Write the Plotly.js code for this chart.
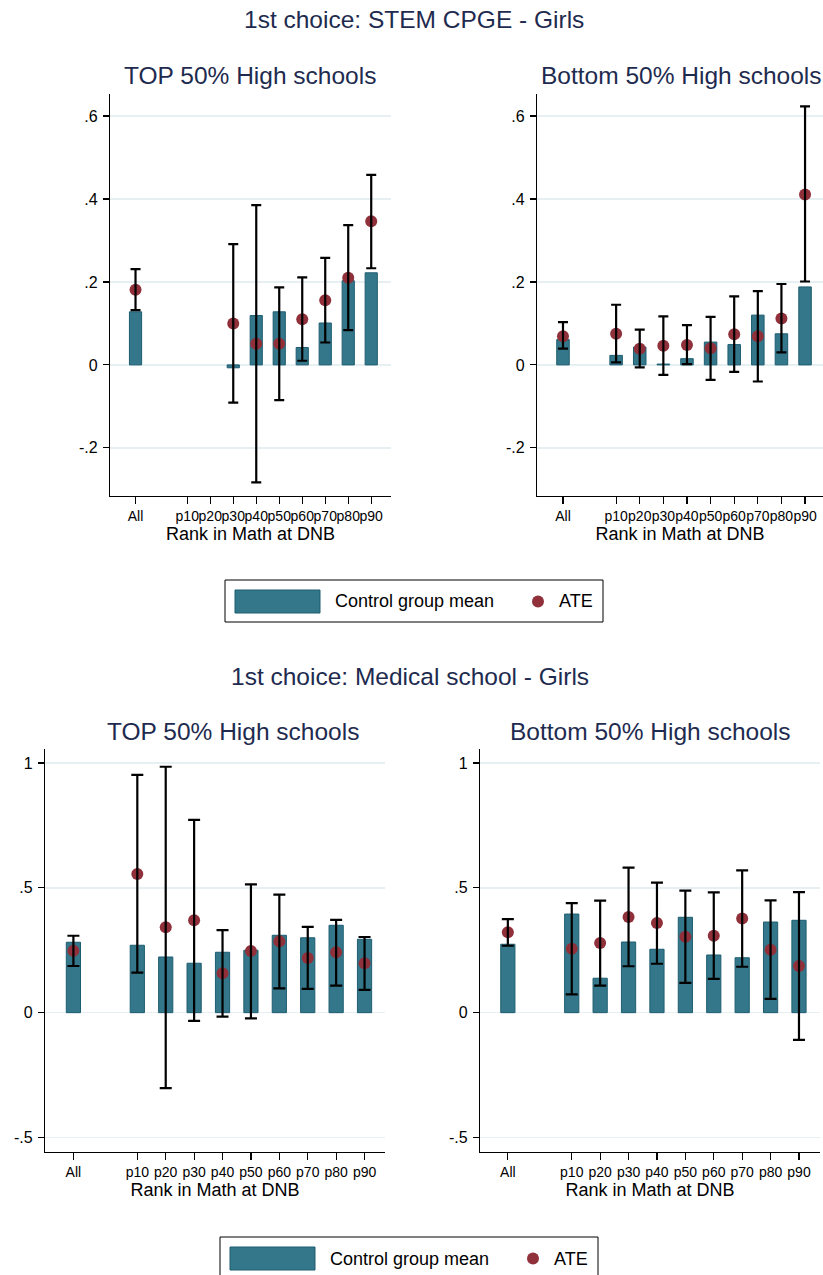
<!DOCTYPE html>
<html>
<head>
<meta charset="utf-8">
<script src="https://cdn.plot.ly/plotly-3.0.1.min.js"></script>
<style>html,body{margin:0;padding:0;background:#fff;}#chart{width:823px;height:1275px;}</style>
</head>
<body>
<div id="chart"></div>
<script>
// ---- categories / ticks ----
const categories = ["All", "p10", "p20", "p30", "p40", "p50", "p60", "p70", "p80", "p90"];
const catPos = [-1.25, 1, 2, 3, 4, 5, 6, 7, 8, 9];
const yTicksTop = [0.6, 0.4, 0.2, 0, -0.2];
const yTickTextTop = [".6", ".4", ".2", "0", "-.2"];
const yTicksBot = [1, 0.5, 0, -0.5];
const yTickTextBot = ["1", ".5", "0", "-.5"];

// ---- 1st choice: STEM CPGE - Girls, TOP 50% ----
const stemTopCtrl = [0.128, null, null, -0.007, 0.119, 0.128, 0.042, 0.101, 0.203, 0.222];
const stemTopAte  = [0.181, null, null, 0.100, 0.051, 0.051, 0.110, 0.156, 0.210, 0.346];
const stemTopLo   = [0.132, null, null, -0.091, -0.283, -0.085, 0.010, 0.054, 0.084, 0.233];
const stemTopHi   = [0.231, null, null, 0.291, 0.385, 0.187, 0.211, 0.258, 0.337, 0.458];

// ---- 1st choice: STEM CPGE - Girls, Bottom 50% ----
const stemBotCtrl = [0.061, 0.023, 0.043, 0.002, 0.015, 0.055, 0.049, 0.120, 0.075, 0.188];
const stemBotAte  = [0.069, 0.075, 0.039, 0.046, 0.048, 0.040, 0.074, 0.069, 0.112, 0.411];
const stemBotLo   = [0.039, 0.006, -0.006, -0.024, 0.002, -0.036, -0.017, -0.040, 0.030, 0.201];
const stemBotHi   = [0.103, 0.145, 0.085, 0.117, 0.096, 0.116, 0.165, 0.178, 0.195, 0.623];

// ---- 1st choice: Medical school - Girls, TOP 50% ----
const medTopCtrl = [0.282, 0.270, 0.223, 0.198, 0.242, 0.250, 0.310, 0.300, 0.350, 0.294];
const medTopAte  = [0.248, 0.555, 0.342, 0.370, 0.158, 0.247, 0.286, 0.219, 0.242, 0.198];
const medTopLo   = [0.187, 0.160, -0.302, -0.033, -0.016, -0.023, 0.097, 0.095, 0.108, 0.091];
const medTopHi   = [0.308, 0.952, 0.985, 0.772, 0.331, 0.514, 0.473, 0.344, 0.372, 0.303];

// ---- 1st choice: Medical school - Girls, Bottom 50% ----
const medBotCtrl = [0.274, 0.395, 0.138, 0.283, 0.254, 0.382, 0.231, 0.220, 0.363, 0.370];
const medBotAte  = [0.322, 0.256, 0.279, 0.383, 0.359, 0.304, 0.308, 0.377, 0.252, 0.187];
const medBotLo   = [0.268, 0.073, 0.108, 0.186, 0.196, 0.119, 0.135, 0.184, 0.055, -0.109];
const medBotHi   = [0.375, 0.439, 0.449, 0.581, 0.521, 0.489, 0.482, 0.570, 0.450, 0.483];

// ---- style ----
const W = 823, H = 1275;
const teal = "#35778a", tealLine = "#1d5d70", red = "#8f303a", navy = "#1e2b4f";
const font = "Liberation Sans, Arial, Helvetica, sans-serif";
const px = v => v / W;
const py = v => 1 - v / H;

function panel(ctrl, ate, lo, hi, xa, ya, barW, capW) {
  const up = ate.map((a, i) => (a == null || hi[i] == null) ? null : hi[i] - a);
  const dn = ate.map((a, i) => (a == null || lo[i] == null) ? null : a - lo[i]);
  return [
    {type: "bar", x: catPos, y: ctrl, xaxis: xa, yaxis: ya, width: barW,
     marker: {color: teal, line: {color: tealLine, width: 1}}, name: "Control group mean", showlegend: false, hoverinfo: "y"},
    {type: "scatter", mode: "markers", x: catPos, y: ate, xaxis: xa, yaxis: ya,
     marker: {color: red, size: 12}, name: "ATE", showlegend: false, hoverinfo: "y"},
    {type: "scatter", mode: "markers", x: catPos, y: ate, xaxis: xa, yaxis: ya,
     marker: {color: red, size: 12, opacity: 0}, showlegend: false, hoverinfo: "skip",
     error_y: {type: "data", symmetric: false, array: up, arrayminus: dn, color: "#000", thickness: 2.2, width: capW}}
  ];
}

const data = [].concat(
  panel(stemTopCtrl, stemTopAte, stemTopLo, stemTopHi, "x", "y", 0.53, 5),
  panel(stemBotCtrl, stemBotAte, stemBotLo, stemBotHi, "x2", "y2", 0.53, 5),
  panel(medTopCtrl, medTopAte, medTopLo, medTopHi, "x3", "y3", 0.5, 6),
  panel(medBotCtrl, medBotAte, medBotLo, medBotHi, "x4", "y4", 0.5, 6)
);

function xaxis(l, r, range, anchor, tf) {
  return {domain: [px(l), px(r)], range: range, anchor: anchor, tickmode: "array", tickvals: catPos, ticktext: categories,
    tickangle: 0,
    showline: true, linecolor: "#000", linewidth: 1.2, ticks: "outside", ticklen: 7, tickcolor: "#000", tickwidth: 1.2,
    showgrid: false, zeroline: false, tickfont: {family: font, size: tf, color: "#000"},
    title: {text: "Rank in Math at DNB", font: {family: font, size: 18, color: "#000"}, standoff: 2}};
}
function yaxis(t, b, range, anchor, tv, tt) {
  return {domain: [py(b), py(t)], range: range, anchor: anchor, tickmode: "array", tickvals: tv, ticktext: tt,
    showline: true, linecolor: "#000", linewidth: 1.2, ticks: "outside", ticklen: 6, tickcolor: "#000", tickwidth: 1.2,
    showgrid: true, gridcolor: "#e6eff2", gridwidth: 1.5, zeroline: false, ticklabelstandoff: 2,
    tickfont: {family: font, size: 16, color: "#000"}};
}

const ann = (text, x, y, size, color, xanchor) => ({text: text, x: px(x), y: py(y), xref: "paper", yref: "paper",
  xanchor: xanchor || "center", yanchor: "middle", showarrow: false, font: {family: font, size: size, color: color}});

function legend(x0, y0) {
  // x0,y0: top-left of legend box in pixels
  const shapes = [
    {type: "rect", xref: "paper", yref: "paper", x0: px(x0), x1: px(x0 + 378), y0: py(y0 + 42), y1: py(y0), line: {color: "#000", width: 1}, fillcolor: "#fff"},
    {type: "rect", xref: "paper", yref: "paper", x0: px(x0 + 10), x1: px(x0 + 95), y0: py(y0 + 33), y1: py(y0 + 10), line: {color: tealLine, width: 1}, fillcolor: teal},
    {type: "circle", xref: "paper", yref: "paper", x0: px(x0 + 307), x1: px(x0 + 319), y0: py(y0 + 27.5), y1: py(y0 + 15.5), line: {color: red, width: 0}, fillcolor: red}
  ];
  const anns = [
    ann("Control group mean", x0 + 108, y0 + 21.5, 18, "#000", "left"),
    ann("ATE", x0 + 332, y0 + 21.5, 18, "#000", "left")
  ];
  return {shapes, anns};
}
const lg1 = legend(225, 580);
const lg2 = legend(220, 1237);

const layout = {
  width: W, height: H, margin: {l: 0, r: 0, t: 0, b: 0}, paper_bgcolor: "#fff", plot_bgcolor: "#fff",
  showlegend: false, bargap: 0,
  xaxis: xaxis(110, 391, [-2.36, 9.86], "y", 14),
  yaxis: yaxis(94, 496, [-0.316, 0.653], "x", yTicksTop, yTickTextTop),
  xaxis2: xaxis(537, 823, [-2.35, 9.76], "y2", 14),
  yaxis2: yaxis(94, 496, [-0.316, 0.653], "x2", yTicksTop, yTickTextTop),
  xaxis3: xaxis(45, 385, [-2.25, 9.72], "y3", 14),
  yaxis3: yaxis(749, 1152, [-0.558, 1.056], "x3", yTicksBot, yTickTextBot),
  xaxis4: xaxis(480, 820, [-2.23, 9.74], "y4", 14),
  yaxis4: yaxis(749, 1152, [-0.558, 1.056], "x4", yTicksBot, yTickTextBot),
  shapes: lg1.shapes.concat(lg2.shapes),
  annotations: [
    ann("1st choice: STEM CPGE - Girls", 414, 20, 24.5, navy),
    ann("TOP 50% High schools", 250, 76, 24.5, navy),
    ann("Bottom 50% High schools", 539, 76, 24.5, navy, "left"),
    ann("1st choice: Medical school - Girls", 410, 676, 24.5, navy),
    ann("TOP 50% High schools", 233, 731, 24.5, navy),
    ann("Bottom 50% High schools", 650, 731, 24.5, navy)
  ].concat(lg1.anns, lg2.anns)
};

Plotly.newPlot("chart", data, layout, {displayModeBar: false, staticPlot: true});
</script>
</body>
</html>
